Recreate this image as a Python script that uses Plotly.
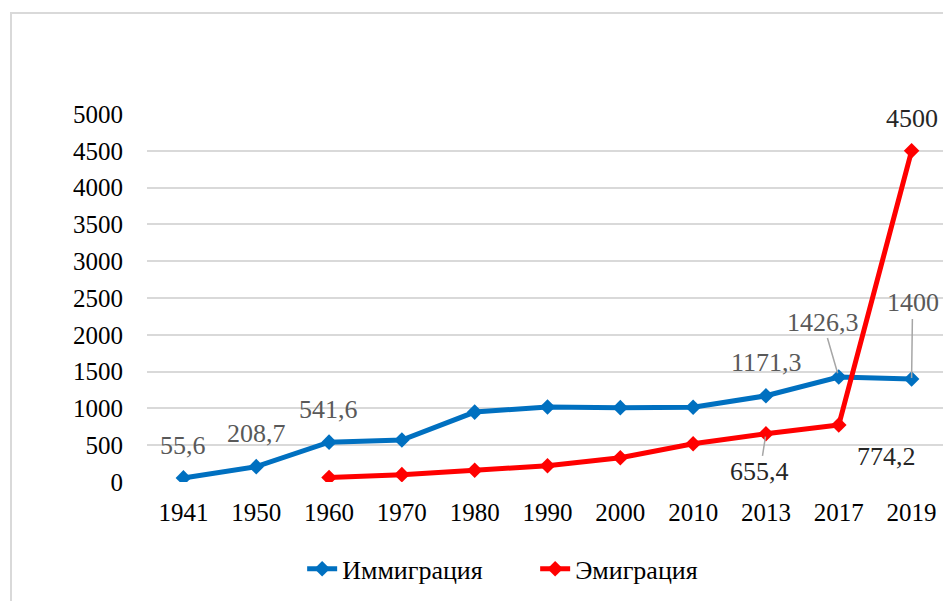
import plotly.graph_objects as go

years = ["1941", "1950", "1960", "1970", "1980", "1990", "2000", "2010", "2013", "2017", "2019"]
immigration = [55.6, 208.7, 541.6, 570, 950, 1020, 1010, 1015, 1171.3, 1426.3, 1400]
emigration = [None, None, 60, 100, 160, 220, 330, 520, 655.4, 774.2, 4500]
y_ticks = [0, 500, 1000, 1500, 2000, 2500, 3000, 3500, 4000, 4500, 5000]

BLUE = "#0070C0"
RED = "#FF0000"
FONT = "Times New Roman, Liberation Serif, serif"


def fmt(v):
    return f"{v:g}".replace(".", ",")


fig = go.Figure()
fig.add_trace(go.Scatter(
    x=years, y=immigration, name="Иммиграция", mode="lines+markers",
    line=dict(color=BLUE, width=5), marker=dict(symbol="diamond", size=12, color=BLUE),
))
fig.add_trace(go.Scatter(
    x=years, y=emigration, name="Эмиграция", mode="lines+markers",
    line=dict(color=RED, width=5), marker=dict(symbol="diamond", size=12, color=RED),
))

label_specs = [
    (immigration, 0, "#595959", 0, 32, None),
    (immigration, 1, "#595959", 0, 33, None),
    (immigration, 2, "#595959", -1, 33, None),
    (immigration, 8, "#595959", 1, 33, None),
    (immigration, 9, "#595959", 0, 0, (-16, -55, 4)),
    (immigration, 10, "#595959", 0, 0, (1, -76, 1)),
    (emigration, 8, "#262626", 0, 0, (-6, 38, 3)),
    (emigration, 9, "#262626", 48, -31, None),
    (emigration, 10, "#262626", 0, 32, None),
]

for series, i, col, xs, ys, arrow in label_specs:
    a = dict(x=i, y=series[i], xref="x", yref="y", text=fmt(series[i]),
             font=dict(family=FONT, size=26, color=col))
    if arrow is None:
        a.update(showarrow=False, xshift=xs, yshift=ys)
    else:
        ax, ay, so = arrow
        a.update(showarrow=True, ax=ax, ay=ay, arrowhead=0, arrowwidth=1.5,
                 arrowcolor="#a6a6a6", standoff=so)
    fig.add_annotation(**a)

fig.add_shape(type="rect", xref="paper", yref="paper", x0=-0.1698, x1=1.02,
              y0=-0.34, y1=1.2745, line=dict(color="#d9d9d9", width=2), layer="below")

fig.update_layout(
    width=943, height=593,
    margin=dict(l=139, r=3, t=106, b=119),
    paper_bgcolor="white", plot_bgcolor="white",
    font=dict(family=FONT, size=25, color="black"),
    showlegend=True,
    legend=dict(orientation="h", x=0.1937, xanchor="left", y=-0.236, yanchor="middle",
                font=dict(family=FONT, size=26, color="black"), bgcolor="rgba(0,0,0,0)",
                traceorder="normal", entrywidth=188, entrywidthmode="pixels"),
)
fig.update_xaxes(type="category", range=[-0.5, 10.5], showgrid=False, zeroline=False,
                 showline=False, ticks="outside", ticklen=8, tickcolor="rgba(0,0,0,0)",
                 tickfont=dict(family=FONT, size=25, color="black"))
fig.update_yaxes(range=[0, 5000], tickvals=y_ticks, showgrid=True, gridcolor="#d9d9d9",
                 gridwidth=2, zeroline=False, showline=False, ticks="outside", ticklen=18,
                 tickcolor="rgba(0,0,0,0)",
                 tickfont=dict(family=FONT, size=25, color="black"))

fig.write_html("out.html")
